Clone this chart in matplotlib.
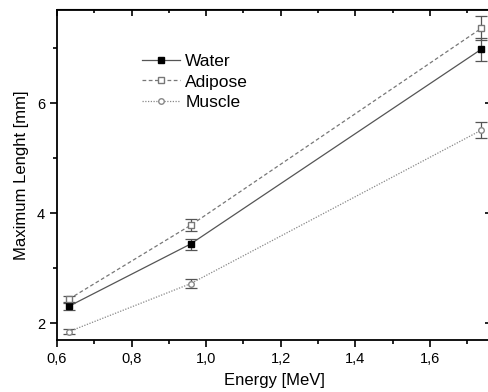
import matplotlib
matplotlib.use('Agg')
import matplotlib.pyplot as plt
from matplotlib.lines import Line2D
from matplotlib.ticker import MultipleLocator, FuncFormatter

# data
energy = [0.632, 0.958, 1.738]
water = [2.31, 3.44, 6.98]
water_err = [0.06, 0.10, 0.21]
adipose = [2.44, 3.78, 7.36]
adipose_err = [0.06, 0.11, 0.22]
muscle = [1.85, 2.72, 5.51]
muscle_err = [0.05, 0.08, 0.15]

plt.rcParams['font.family'] = ['Liberation Sans', 'DejaVu Sans']

fig = plt.figure(figsize=(4.89, 3.92), dpi=100)
right_px = 492
ax = fig.add_axes([57/489, (392-340)/392, (right_px-57)/489, (340-9.5)/392])

styles = [
    (water, water_err, 'Water', dict(color='#555555', ls='-', marker='s', mfc='black', mec='black')),
    (adipose, adipose_err, 'Adipose', dict(color='#777777', ls=(0, (3, 2)), marker='s', mfc='white', mec='#777777')),
    (muscle, muscle_err, 'Muscle', dict(color='#888888', ls=(0, (1, 1.2)), marker='o', mfc='white', mec='#888888')),
]
handles = []
for vals, err, name, st in styles:
    ax.errorbar(energy, vals, yerr=err, lw=0.9, ms=4, ecolor='#555555',
                elinewidth=0.9, capsize=4, capthick=0.9, **st)
    handles.append(Line2D([], [], lw=0.9, ms=4, label=name, **st))

x_max = 0.6 + (right_px - 57) / 373.0
ax.set_xlim(0.6, x_max)
ax.set_ylim(1.697, 7.70)
ax.xaxis.set_major_locator(MultipleLocator(0.2))
ax.xaxis.set_minor_locator(MultipleLocator(0.1))
ax.yaxis.set_major_locator(MultipleLocator(2))
ax.yaxis.set_minor_locator(MultipleLocator(1))
ax.xaxis.set_major_formatter(FuncFormatter(lambda v, p: ('%.1f' % v).replace('.', ',')))
ax.yaxis.set_major_formatter(FuncFormatter(lambda v, p: '%d' % v))

for s in ax.spines.values():
    s.set_linewidth(1.3)
ax.tick_params(which='both', direction='out', top=False, right=False, width=1.2, labelsize=10.5)
ax.tick_params(which='major', length=5)
ax.tick_params(which='minor', length=3)
# mirrored ticks pointing inward on top/right
sec_x = ax.secondary_xaxis('top')
sec_x.xaxis.set_major_locator(MultipleLocator(0.2))
sec_x.xaxis.set_minor_locator(MultipleLocator(0.1))
sec_x.tick_params(which='both', direction='in', labeltop=False, width=1.2)
sec_x.tick_params(which='major', length=5)
sec_x.tick_params(which='minor', length=3)
sec_y = ax.secondary_yaxis('right')
sec_y.yaxis.set_major_locator(MultipleLocator(2))
sec_y.yaxis.set_minor_locator(MultipleLocator(1))
sec_y.tick_params(which='both', direction='in', labelright=False, width=1.2)
sec_y.tick_params(which='major', length=5)
sec_y.tick_params(which='minor', length=3)

ax.set_xlabel('Energy [MeV]', fontsize=12, labelpad=5)
ax.set_ylabel('Maximum Lenght [mm]', fontsize=12, labelpad=6)

ax.legend(handles=handles, loc='upper left', bbox_to_anchor=(142/489, 1 - 54/392),
          bbox_transform=fig.transFigure, frameon=False, fontsize=12.5,
          handlelength=2.2, handletextpad=0.3, labelspacing=0.3, borderpad=0,
          borderaxespad=0)

plt.savefig('out.png', dpi=100)
